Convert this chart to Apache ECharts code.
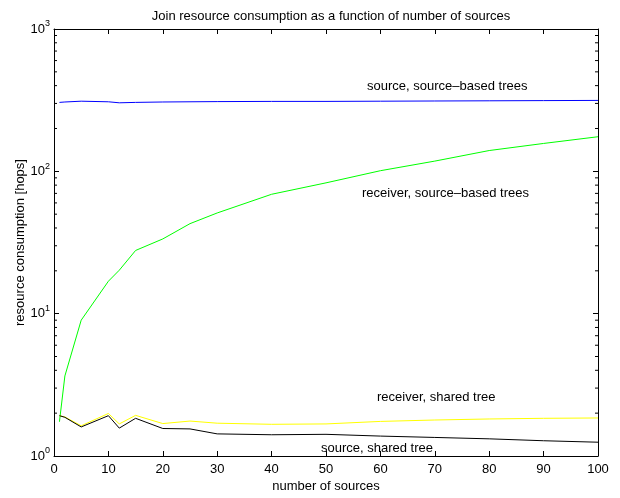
<!DOCTYPE html>
<html><head><meta charset="utf-8">
<script src="https://cdn.jsdelivr.net/npm/echarts@6/dist/echarts.min.js"></script>
<style>html,body{margin:0;padding:0;background:#fff}#c{width:620px;height:498px}</style>
</head><body><div id="c"></div>
<script>
// ---- data ----
const xValues = [1, 2, 5, 10, 12, 15, 20, 25, 30, 40, 50, 60, 70, 80, 90, 100];
const sourceSourceTrees   = [305, 307, 311, 308, 303, 305, 307, 308, 309, 310, 310, 311, 312, 313, 314, 315];
const receiverSourceTrees = [1.74, 3.65, 9.0, 16.9, 20.2, 27.8, 33.5, 42.9, 51, 69, 83, 101, 118, 140, 157, 175];
const receiverSharedTree  = [1.92, 1.88, 1.63, 1.99, 1.68, 1.93, 1.69, 1.76, 1.70, 1.67, 1.68, 1.75, 1.79, 1.82, 1.84, 1.85];
const sourceSharedTree    = [1.92, 1.87, 1.60, 1.92, 1.57, 1.84, 1.56, 1.55, 1.43, 1.41, 1.42, 1.38, 1.35, 1.32, 1.28, 1.25];
const minorTickValues = [2,3,4,5,6,7,8,9,20,30,40,50,60,70,80,90,200,300,400,500,600,700,800,900];
const titleText = 'Join resource consumption as a function of number of sources';
const xName = 'number of sources';
const yName = 'resource consumption [hops]';
const seriesNames = ['source, source\u2013based trees', 'receiver, source\u2013based trees', 'receiver, shared tree', 'source, shared tree'];

const FONT = 'Liberation Sans, Arial, sans-serif';
const pairs = vals => xValues.map((x, i) => [x, vals[i]]);

const chart = echarts.init(document.getElementById('c'), null, {renderer: 'canvas'});
const axisLine = {show: true, onZero: false, lineStyle: {color: '#000', width: 1}};
const yFormatter = v => '{b|10}{s|' + Math.round(Math.log10(v)) + '}';

chart.setOption({
  backgroundColor: '#fff',
  animation: false,
  title: {
    text: titleText, left: 326, top: 5, textAlign: 'center',
    textStyle: {fontFamily: FONT, fontSize: 13, fontWeight: 'normal', color: '#000'}
  },
  grid: {left: 54, right: 22, top: 29, bottom: 41, containLabel: false},
  xAxis: [
    {type: 'value', min: 0, max: 100, interval: 10, position: 'bottom',
     name: xName, nameLocation: 'middle', nameGap: 24, nameMoveOverlap: false,
     nameTextStyle: {fontFamily: FONT, fontSize: 13, color: '#000'},
     axisLine, splitLine: {show: false},
     axisTick: {inside: true, length: 5, lineStyle: {color: '#000'}},
     axisLabel: {fontFamily: FONT, fontSize: 13, color: '#000', margin: 7}},
    {type: 'value', min: 0, max: 100, interval: 10, position: 'top',
     axisLine, splitLine: {show: false},
     axisTick: {inside: true, length: 5, lineStyle: {color: '#000'}},
     axisLabel: {show: false}}
  ],
  yAxis: [
    {type: 'log', logBase: 10, min: 1, max: 1000, position: 'left',
     name: yName, nameLocation: 'middle', nameGap: 27, nameMoveOverlap: false,
     nameTextStyle: {fontFamily: FONT, fontSize: 13, color: '#000'},
     axisLine, splitLine: {show: false}, minorTick: {show: false},
     axisTick: {inside: true, length: 5, lineStyle: {color: '#000'}},
     axisLabel: {formatter: yFormatter, margin: 4, color: '#000',
       rich: {b: {fontFamily: FONT, fontSize: 13, color: '#000'},
              s: {fontFamily: FONT, fontSize: 9, color: '#000', verticalAlign: 'top', padding: [0, 0, 10, 0]}}}},
    {type: 'log', logBase: 10, min: 1, max: 1000, position: 'right',
     axisLine, splitLine: {show: false},
     axisTick: {inside: true, length: 5, lineStyle: {color: '#000'}},
     axisLabel: {show: false}}
  ],
  series: [
    {type: 'line', name: seriesNames[0], data: pairs(sourceSourceTrees), showSymbol: false,
     lineStyle: {color: '#0000ff', width: 1}, itemStyle: {color: '#0000ff'}},
    {type: 'line', name: seriesNames[1], data: pairs(receiverSourceTrees), showSymbol: false,
     lineStyle: {color: '#00ff00', width: 1}, itemStyle: {color: '#00ff00'}},
    {type: 'line', name: seriesNames[2], data: pairs(receiverSharedTree), showSymbol: false,
     lineStyle: {color: '#ffff00', width: 1}, itemStyle: {color: '#ffff00'}},
    {type: 'line', name: seriesNames[3], data: pairs(sourceSharedTree), showSymbol: false,
     lineStyle: {color: '#000000', width: 1}, itemStyle: {color: '#000000'}},
    {type: 'custom', silent: true, clip: false, data: minorTickValues.map(v => [0, v]),
     renderItem: (params, api) => {
       const v = api.value(1);
       const l = api.coord([0, v]);
       const r = api.coord([100, v]);
       return {type: 'group', children: [
         {type: 'line', shape: {x1: l[0], y1: l[1], x2: l[0] + 3, y2: l[1]}, style: {stroke: '#000', lineWidth: 1}},
         {type: 'line', shape: {x1: r[0], y1: r[1], x2: r[0] - 3, y2: r[1]}, style: {stroke: '#000', lineWidth: 1}}
       ]};
     }}
  ],
  graphic: [
    {type: 'text', left: 367, top: 80, style: {text: seriesNames[0], font: '13px ' + FONT, fill: '#000'}},
    {type: 'text', left: 362, top: 187, style: {text: seriesNames[1], font: '13px ' + FONT, fill: '#000'}},
    {type: 'text', left: 377, top: 391, style: {text: seriesNames[2], font: '13px ' + FONT, fill: '#000'}},
    {type: 'text', left: 321, top: 442, style: {text: seriesNames[3], font: '13px ' + FONT, fill: '#000'}}
  ]
});
</script></body></html>
